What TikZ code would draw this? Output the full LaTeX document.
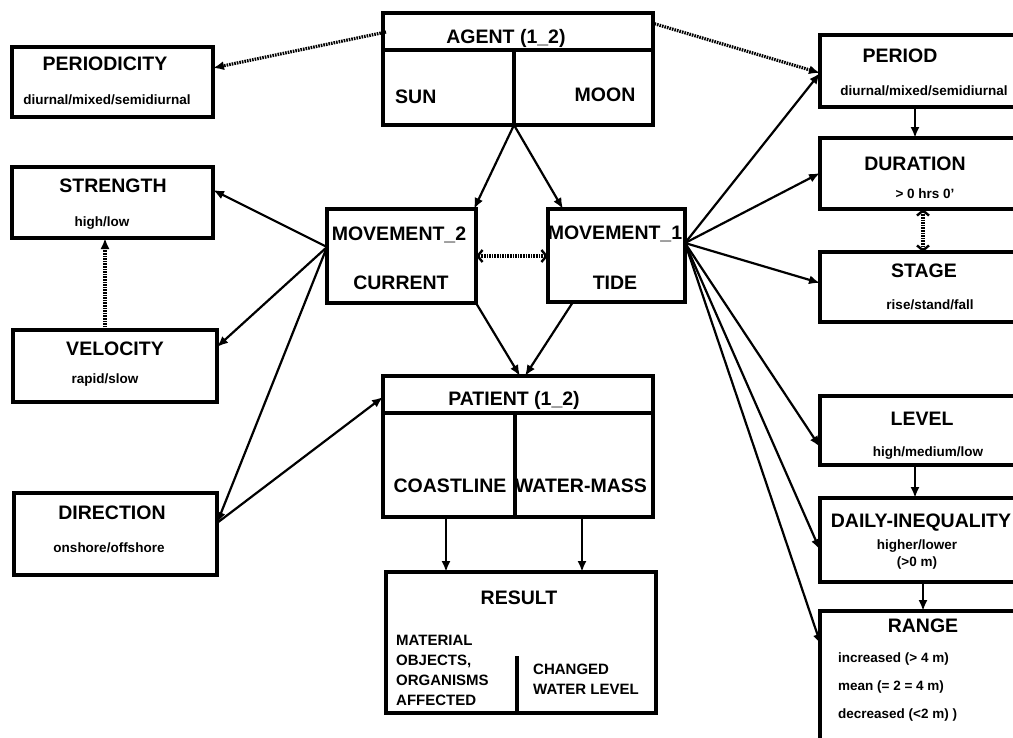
\documentclass[tikz,border=0pt]{standalone}
\usepackage{fontspec}
\setmainfont{Liberation Sans}
\usetikzlibrary{arrows.meta}
\newcommand\Tfont{\fontsize{19.5}{21}\selectfont\bfseries}
\newcommand\Sfont{\fontsize{13.5}{15}\selectfont\bfseries}
\newcommand\Rfont{\fontsize{15}{17}\selectfont\bfseries}
\begin{document}
\begin{tikzpicture}[x=1pt,y=-1pt,
  box/.style={draw, line width=3.1pt, inner sep=0pt},
  ttl/.style={inner sep=0pt, anchor=base, font=\Tfont},
  sub/.style={inner sep=0pt, anchor=base, font=\Sfont},
  res/.style={inner sep=0pt, anchor=base west, font=\Rfont},
  sep/.style={line width=3.1pt},
  conn/.style={line width=2.2pt, -{Latex[length=11pt,width=9pt]}},
  dotarr/.style={line width=3.2pt, dash pattern=on 1.6pt off 1pt, -{Latex[length=11pt,width=9pt]}},
  dotdbl/.style={line width=3.2pt, dash pattern=on 1.6pt off 1pt, {Straight Barb[length=5pt,width=12pt,line width=2.4pt]}-{Straight Barb[length=5pt,width=12pt,line width=2.4pt]}}
]
\fill[white] (0,0) rectangle (1013,737);
\useasboundingbox (0,0) rectangle (1013,737);
\clip (0,0) rectangle (1013,737);

% ---------- boxes ----------
\node[box, minimum width=201pt, minimum height=70pt] (periodicity) at (112.5,82) {};
\node[box, minimum width=270pt, minimum height=112pt] (agent) at (518,69) {};
\node[box, minimum width=201pt, minimum height=71pt] (strength) at (112.5,202.5) {};
\node[box, minimum width=204pt, minimum height=72pt] (velocity) at (115,366) {};
\node[box, minimum width=203pt, minimum height=82pt] (direction) at (115.5,534) {};
\node[box, minimum width=149pt, minimum height=94pt] (mov2) at (401.5,256) {};
\node[box, minimum width=137pt, minimum height=93pt] (mov1) at (616.5,255.5) {};
\node[box, minimum width=270pt, minimum height=141pt] (patient) at (518,446.5) {};
\node[box, minimum width=270pt, minimum height=141pt] (result) at (521,642.5) {};
\node[box, minimum width=205pt, minimum height=72pt] (period) at (922.5,71) {};
\node[box, minimum width=205pt, minimum height=71pt] (duration) at (922.5,173.5) {};
\node[box, minimum width=205pt, minimum height=70pt] (stage) at (922.5,287) {};
\node[box, minimum width=205pt, minimum height=69pt] (level) at (922.5,430.5) {};
\node[box, minimum width=205pt, minimum height=84pt] (daily) at (922.5,540) {};
\node[box, minimum width=205pt, minimum height=159pt] (range) at (922.5,690.5) {};

% inner separators
\coordinate (agHL) at (383,50); \coordinate (agHR) at (653,50);
\coordinate (agB) at (514,125); \coordinate (agD) at (514,50);
\draw[sep] (agHL) -- (agHR);
\draw[sep] (agD) -- (agB);
\coordinate (paHL) at (383,413); \coordinate (paHR) at (653,413);
\coordinate (paD) at (515,413); \coordinate (paB) at (515,517);
\draw[sep] (paHL) -- (paHR);
\draw[sep] (paD) -- (paB);
\coordinate (reD) at (517,656); \coordinate (reB) at (517,713);
\draw[sep] (reD) -- (reB);

% ---------- texts ----------
\node[ttl] (tPeriodicity) at (105,70) {PERIODICITY};
\node[sub] (sPeriodicity) at (107,104) {diurnal/mixed/semidiurnal};
\node[ttl] (tAgent) at (506,43) {AGENT (1\_2)};
\node[ttl, anchor=base west] (tSun) at (395,103) {SUN};
\node[ttl] (tMoon) at (605,101) {MOON};
\node[ttl] (tStrength) at (113,192) {STRENGTH};
\node[sub] (sStrength) at (102,226) {high/low};
\node[ttl] (tVelocity) at (115,355) {VELOCITY};
\node[sub] (sVelocity) at (105,383) {rapid/slow};
\node[ttl] (tDirection) at (112,519) {DIRECTION};
\node[sub] (sDirection) at (109,552) {onshore/offshore};
\node[ttl] (tMov2) at (399,240) {MOVEMENT\_2};
\node[ttl] (tCurrent) at (401,289) {CURRENT};
\node[ttl] (tMov1) at (615,239) {MOVEMENT\_1};
\node[ttl] (tTide) at (615,289) {TIDE};
\node[ttl] (tPatient) at (514,405) {PATIENT (1\_2)};
\node[ttl] (tCoast) at (450,492) {COASTLINE};
\node[ttl] (tWater) at (581,492) {WATER-MASS};
\node[ttl] (tResult) at (519,604) {RESULT};
\node[res] (r1) at (396,645) {MATERIAL};
\node[res] (r2) at (396,665) {OBJECTS,};
\node[res] (r3) at (396,685) {ORGANISMS};
\node[res] (r4) at (396,705) {AFFECTED};
\node[res] (r5) at (533,674) {CHANGED};
\node[res] (r6) at (533,694) {WATER LEVEL};
\node[ttl] (tPeriod) at (900,62) {PERIOD};
\node[sub] (sPeriod) at (924,95) {diurnal/mixed/semidiurnal};
\node[ttl] (tDuration) at (915,170) {DURATION};
\node[sub] (sDuration) at (925,198) {> 0 hrs 0’};
\node[ttl] (tStage) at (924,277) {STAGE};
\node[sub] (sStage) at (930,309) {rise/stand/fall};
\node[ttl] (tLevel) at (922,425) {LEVEL};
\node[sub] (sLevel) at (928,456) {high/medium/low};
\node[ttl] (tDaily) at (921,527) {DAILY-INEQUALITY};
\node[sub] (sDaily1) at (917,549) {higher/lower};
\node[sub] (sDaily2) at (917,566) {(>0 m)};
\node[ttl] (tRange) at (923,632) {RANGE};
\node[sub, anchor=base west] (sRange1) at (838,662) {increased (> 4 m)};
\node[sub, anchor=base west] (sRange2) at (838,690) {mean (= 2 = 4 m)};
\node[sub, anchor=base west] (sRange3) at (838,718) {decreased (<2 m) )};

% ---------- connector end points ----------
\coordinate (agL) at (386,32);
\coordinate (agR) at (652,23);
\coordinate (pdcE) at (213,68);
\coordinate (perW) at (820,73);
\coordinate (m2T) at (474,209);
\coordinate (m1T) at (563,209);
\coordinate (m2E) at (476,256);
\coordinate (m1W) at (548,256);
\coordinate (m2B) at (476,303);
\coordinate (m1B) at (573,302);
\coordinate (paT1) at (520,376);
\coordinate (paT2) at (525,376);
\coordinate (m2L) at (327,247);
\coordinate (strE) at (213,190);
\coordinate (velE) at (217,347);
\coordinate (dirE) at (217,523);
\coordinate (paL) at (383,397);
\coordinate (velT) at (105,330);
\coordinate (strB) at (105,238);
\coordinate (m1R) at (685,243);
\coordinate (durW) at (820,173);
\coordinate (stgW) at (820,283);
\coordinate (levW) at (820,447);
\coordinate (dlyW) at (820,550);
\coordinate (rngW) at (821,645);
\coordinate (perB) at (915,107);
\coordinate (durT) at (915,138);
\coordinate (durB) at (923,209);
\coordinate (stgT) at (923,252);
\coordinate (levB) at (915,465);
\coordinate (dlyT) at (915,498);
\coordinate (dlyB) at (923,582);
\coordinate (rngT) at (923,611);
\coordinate (coB) at (446,517);
\coordinate (reT1) at (446,572);
\coordinate (wmB) at (582,517);
\coordinate (reT2) at (582,572);

% ---------- connectors ----------
\draw[dotarr] (agL) -- (pdcE);
\draw[dotarr] (agR) -- (perW);
\draw[conn] (agB) -- (m2T);
\draw[conn] (agB) -- (m1T);
\draw[dotdbl] (m2E) -- (m1W);
\draw[conn] (m2B) -- (paT1);
\draw[conn] (m1B) -- (paT2);
\draw[conn] (m2L) -- (strE);
\draw[conn] (m2L) -- (velE);
\draw[conn] (m2L) -- (dirE);
\draw[conn] (dirE) -- (paL);
\draw[dotarr] (velT) -- (strB);
\draw[conn] (m1R) -- (perW);
\draw[conn] (m1R) -- (durW);
\draw[conn] (m1R) -- (stgW);
\draw[conn] (m1R) -- (levW);
\draw[conn] (m1R) -- (dlyW);
\draw[conn] (m1R) -- (rngW);
\draw[conn] (perB) -- (durT);
\draw[dotdbl] (durB) -- (stgT);
\draw[conn] (levB) -- (dlyT);
\draw[conn] (dlyB) -- (rngT);
\draw[conn] (coB) -- (reT1);
\draw[conn] (wmB) -- (reT2);
\end{tikzpicture}
\end{document}
